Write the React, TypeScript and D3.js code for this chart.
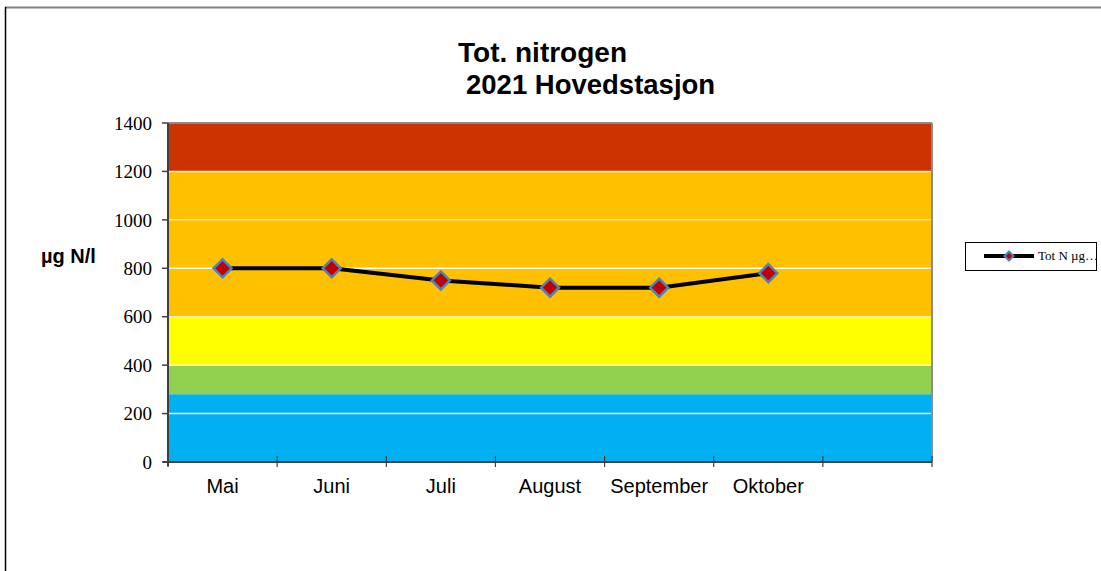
import React from 'react';
import * as d3 from 'd3';

const months = ['Mai', 'Juni', 'Juli', 'August', 'September', 'Oktober', ''];
const totN = [800, 800, 750, 720, 720, 780];
const yTicks = [0, 200, 400, 600, 800, 1000, 1200, 1400];
const classLimits = [0, 280, 400, 600, 1200, 1400];
const seriesName = 'Tot N µg…';

const bandColors = ['#00b0f0', '#92d050', '#ffff00', '#ffc000', '#cc3300'];

const W = 1101;
const H = 571;
const plot = { left: 168, right: 932, top: 123, bottom: 462 };

export default function App() {
  const x = d3.scaleBand<string>()
    .domain(months.map((m, i) => m || `_${i}`))
    .range([plot.left, plot.right])
    .padding(0);

  const y = d3.scaleLinear()
    .domain([0, 1400])
    .range([plot.bottom, plot.top]);

  const key = (i: number) => months[i] || `_${i}`;
  const cx = (i: number) => (x(key(i)) as number) + x.bandwidth() / 2;

  const line = d3.line<number>()
    .x((_, i) => cx(i))
    .y(d => y(d));

  const bands = bandColors.map((c, i) => ({ lo: classLimits[i], hi: classLimits[i + 1], c }));
  const diamond = (px: number, py: number, r: number) =>
    `M${px},${py - r}L${px + r},${py}L${px},${py + r}L${px - r},${py}Z`;

  const boundaries = d3.range(months.length + 1).map(i => plot.left + i * x.bandwidth());

  return (
    <svg width={W} height={H} style={{ position: 'absolute', left: 0, top: 0 }}>
      <rect width={W} height={H} fill="#fff" />
      {/* chart frame */}
      <line x1={5} x2={W} y1={7.5} y2={7.5} stroke="#808080" strokeWidth={2} />
      <line x1={5.5} x2={5.5} y1={7} y2={H} stroke="#000" strokeWidth={1.5} />

      <text x={458} y={62} fontFamily="Liberation Sans, Arial, sans-serif" fontWeight="bold" fontSize={28}>Tot. nitrogen</text>
      <text x={466} y={94} fontFamily="Liberation Sans, Arial, sans-serif" fontWeight="bold" fontSize={27.5}>2021 Hovedstasjon</text>

      {/* quality classes */}
      {bands.map((b, i) => (
        <rect key={i} x={plot.left} width={plot.right - plot.left}
          y={y(b.hi)} height={y(b.lo) - y(b.hi)} fill={b.c} />
      ))}

      {/* gridlines */}
      {yTicks.filter(t => t > 0 && t < 1400).map(t => (
        <line key={t} x1={plot.left} x2={plot.right} y1={y(t)} y2={y(t)}
          stroke="#fff" strokeOpacity={t === 1000 || t === 600 ? 0.6 : 0.95} strokeWidth={1.5} />
      ))}

      {/* plot border */}
      <line x1={plot.left} x2={plot.right} y1={plot.top} y2={plot.top} stroke="#8c8c8c" strokeWidth={2} />
      <line x1={plot.right} x2={plot.right} y1={plot.top} y2={plot.bottom} stroke="#8c8c8c" strokeWidth={2} />

      {/* axes */}
      <line x1={plot.left} x2={plot.left} y1={plot.top} y2={plot.bottom + 4} stroke="#404040" strokeWidth={2} />
      <line x1={plot.left - 5} x2={plot.right} y1={plot.bottom} y2={plot.bottom} stroke="#404040" strokeWidth={2} />
      {yTicks.map(t => (
        <g key={t}>
          <line x1={plot.left - 6} x2={plot.left} y1={y(t)} y2={y(t)} stroke="#404040" strokeWidth={1.5} />
          <text x={152} y={y(t)} dy="0.35em" textAnchor="end"
            fontFamily="Liberation Serif, Times New Roman, serif" fontSize={19}>{t}</text>
        </g>
      ))}
      {boundaries.map((bx, i) => (
        <line key={i} x1={bx} x2={bx} y1={plot.bottom - 6} y2={plot.bottom + 5} stroke="#404040" strokeWidth={1.2} />
      ))}
      {months.map((m, i) => (
        <text key={i} x={cx(i)} y={493} textAnchor="middle"
          fontFamily="Liberation Sans, Arial, sans-serif" fontSize={20}>{m}</text>
      ))}

      <text x={41} y={263} fontFamily="Liberation Sans, Arial, sans-serif" fontWeight="bold" fontSize={20}>µg N/l</text>

      {/* series */}
      <path d={line(totN) || ''} fill="none" stroke="#000" strokeWidth={4} strokeLinejoin="round" />
      {totN.map((v, i) => (
        <path key={i} d={diamond(cx(i), y(v), 9)} fill="#c00000" stroke="#4f81bd" strokeWidth={2.5} />
      ))}

      {/* legend */}
      <rect x={965.5} y={242.5} width={131} height={28} fill="#fff" stroke="#000" strokeWidth={1} />
      <line x1={984} x2={1034} y1={256} y2={256} stroke="#000" strokeWidth={4} />
      <path d={diamond(1009, 256, 4.5)} fill="#c00000" stroke="#4f81bd" strokeWidth={2} />
      <text x={1038} y={260} fontFamily="Liberation Serif, Times New Roman, serif" fontSize={13}>{seriesName}</text>
    </svg>
  );
}
